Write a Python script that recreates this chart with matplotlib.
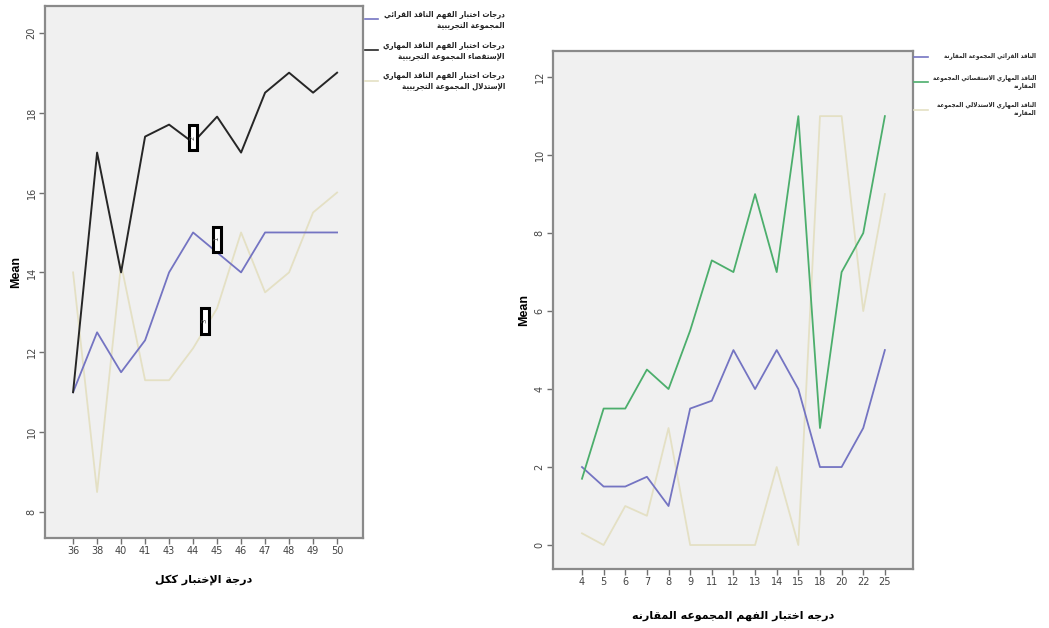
import matplotlib
matplotlib.use('Agg')
import matplotlib.pyplot as plt
from matplotlib.lines import Line2D

# ---------------- data ----------------
x_left = ['36', '38', '40', '41', '43', '44', '45', '46', '47', '48', '49', '50']
left_black = [11, 17, 14, 17.4, 17.7, 17.25, 17.9, 17, 18.5, 19, 18.5, 19]
left_blue = [11, 12.5, 11.5, 12.3, 14, 15, 14.5, 14, 15, 15, 15, 15]
left_beige = [14, 8.5, 14.2, 11.3, 11.3, 12.1, 13.1, 15, 13.5, 14, 15.5, 16]
left_yticks = [8, 10, 12, 14, 16, 18, 20]

x_right = ['4', '5', '6', '7', '8', '9', '11', '12', '13', '14', '15', '18', '20', '22', '25']
right_blue = [2, 1.5, 1.5, 1.75, 1, 3.5, 3.7, 5, 4, 5, 4, 2, 2, 3, 5]
right_green = [1.7, 3.5, 3.5, 4.5, 4, 5.5, 7.3, 7, 9, 7, 11, 3, 7, 8, 11]
right_beige = [0.3, 0, 1, 0.75, 3, 0, 0, 0, 0, 2, 0, 11, 11, 6, 9]
right_yticks = [0, 2, 4, 6, 8, 10, 12]

left_legend = ["درجات اختبار الفهم الناقد القرائي\nالمجموعة التجريبية",
               "درجات اختبار الفهم الناقد المهاري\nالإستقصاء المجموعة التجريبية",
               "درجات اختبار الفهم الناقد المهاري\nالإستدلال المجموعة التجريبية"]
right_legend = ["الناقد القرائي المجموعة المقارنة",
                "الناقد المهاري الاستقصائي المجموعة\nالمقارنة",
                "الناقد المهاري الاستدلالي المجموعة\nالمقارنة"]
left_xlabel = "درجة الإختبار ككل"
right_xlabel = "درجه اختبار الفهم المجموعه المقارنه"
line_labels = ["2", "1", "3"]

# ---------------- simple Arabic shaping ----------------
DUAL = {'ب': 0xFE8F, 'ت': 0xFE95, 'ث': 0xFE99, 'ج': 0xFE9D, 'ح': 0xFEA1, 'خ': 0xFEA5,
        'س': 0xFEB1, 'ش': 0xFEB5, 'ص': 0xFEB9, 'ض': 0xFEBD, 'ط': 0xFEC1, 'ظ': 0xFEC5,
        'ع': 0xFEC9, 'غ': 0xFECD, 'ف': 0xFED1, 'ق': 0xFED5, 'ك': 0xFED9, 'ل': 0xFEDD,
        'م': 0xFEE1, 'ن': 0xFEE5, 'ه': 0xFEE9, 'ي': 0xFEF1, 'ئ': 0xFE89}
RIGHT = {'آ': 0xFE81, 'أ': 0xFE83, 'ؤ': 0xFE85, 'إ': 0xFE87, 'ا': 0xFE8D, 'ة': 0xFE93,
         'د': 0xFEA9, 'ذ': 0xFEAB, 'ر': 0xFEAD, 'ز': 0xFEAF, 'و': 0xFEED, 'ى': 0xFEEF}
LAMALEF = {'آ': 0xFEF5, 'أ': 0xFEF7, 'إ': 0xFEF9, 'ا': 0xFEFB}


def shape_line(s):
    out = []
    i, n = 0, len(s)
    prev_can = False
    while i < n:
        c = s[i]
        nxt = s[i + 1] if i + 1 < n else ''
        if c == 'ل' and nxt in LAMALEF:
            b = LAMALEF[nxt]
            out.append(chr(b + 1 if prev_can else b))
            prev_can = False
            i += 2
            continue
        if c in DUAL:
            b = DUAL[c]
            nj = nxt in DUAL or nxt in RIGHT
            if prev_can and nj:
                g = b + 3
            elif prev_can:
                g = b + 1
            elif nj:
                g = b + 2
            else:
                g = b
            out.append(chr(g))
            prev_can = True
        elif c in RIGHT:
            b = RIGHT[c]
            out.append(chr(b + 1 if prev_can else b))
            prev_can = False
        elif c == 'ء':
            out.append('\uFE80')
            prev_can = False
        else:
            out.append(c)
            prev_can = False
        i += 1
    return ''.join(reversed(out))


def ar(s):
    return '\n'.join(shape_line(l) for l in s.split('\n'))


# ---------------- style ----------------
C_BLACK = '#262626'
C_BLUE = '#7474c2'
C_BEIGE = '#e4e0c4'
C_GREEN = '#4cae6c'
C_BG = '#f0f0f0'
C_SPINE = '#8a8a8a'
AR_FONT = ['DejaVu Sans']

fig = plt.figure(figsize=(10.49, 6.28), dpi=100)
fig.patch.set_facecolor('white')

axL = fig.add_axes([45 / 1049, 1 - 538 / 628, 318 / 1049, 532 / 628])
axR = fig.add_axes([553 / 1049, 1 - 569 / 628, 360 / 1049, 518 / 628])


def style(ax, yticks, ylim):
    ax.set_facecolor(C_BG)
    for sp in ax.spines.values():
        sp.set_color(C_SPINE)
        sp.set_linewidth(1.6)
    ax.set_yticks(yticks)
    ax.set_ylim(*ylim)
    ax.tick_params(axis='both', color='#707070', length=4, width=1, labelcolor='#444444',
                   labelsize=7, pad=2)
    for lab in ax.get_yticklabels():
        lab.set_rotation(90)
        lab.set_va('center')
    ax.set_ylabel('Mean', fontsize=9, fontweight='bold', family='Liberation Sans', labelpad=3)


# left chart
iL = list(range(len(x_left)))
axL.plot(iL, left_beige, color=C_BEIGE, lw=1.3)
axL.plot(iL, left_blue, color=C_BLUE, lw=1.3)
axL.plot(iL, left_black, color=C_BLACK, lw=1.4)
axL.set_xticks(iL)
axL.set_xticklabels(x_left)
axL.set_xlim(-1.17, len(x_left) - 1 + 1.08)
style(axL, left_yticks, (7.35, 20.67))
axL.set_xlabel(ar(left_xlabel), family=AR_FONT, fontsize=8, fontweight='bold', labelpad=13)

for (xx, yy), t in zip([(5, 17.375), (6, 14.83), (5.5, 12.78)], line_labels):
    axL.text(xx, yy, '    ' + t + '    ', rotation=90, ha='center', va='center', fontsize=5,
             color='#555555', bbox=dict(boxstyle='square,pad=0.2', fc='white', ec='black', lw=2.2))

# right chart
iR = list(range(len(x_right)))
axR.plot(iR, right_beige, color=C_BEIGE, lw=1.3)
axR.plot(iR, right_blue, color=C_BLUE, lw=1.3)
axR.plot(iR, right_green, color=C_GREEN, lw=1.3)
axR.set_xticks(iR)
axR.set_xticklabels(x_right)
axR.set_xlim(-1.34, len(x_right) - 1 + 1.3)
style(axR, right_yticks, (-0.615, 12.67))
axR.set_xlabel(ar(right_xlabel), family=AR_FONT, fontsize=8, fontweight='bold', labelpad=17)


# legends (drawn in figure pixels)
def px(x, y):
    return x / 1049, 1 - y / 628


def legend(entries, colors, line_x, line_ys, text_x, text_ys, size):
    for txt, col, ly, ty in zip(entries, colors, line_ys, text_ys):
        x0, yy = px(line_x[0], ly)
        x1, _ = px(line_x[1], ly)
        fig.add_artist(Line2D([x0, x1], [yy, yy], color=col, lw=1.2, transform=fig.transFigure))
        tx, tyy = px(text_x, ty)
        fig.text(tx, tyy, ar(txt), ha='right', va='top', family=AR_FONT, fontsize=size,
                 fontweight='bold', fontstretch='condensed', color='#222222',
                 linespacing=1.3, multialignment='right')


legend(left_legend, [C_BLUE, C_BLACK, C_BEIGE], (365, 378), [19, 50, 81], 505, [10, 41, 71], 5.7)
legend(right_legend, [C_BLUE, C_GREEN, C_BEIGE], (914, 928), [57, 82, 110], 1036, [52, 74, 101], 4.5)

fig.savefig('out.png', dpi=100, facecolor='white')
